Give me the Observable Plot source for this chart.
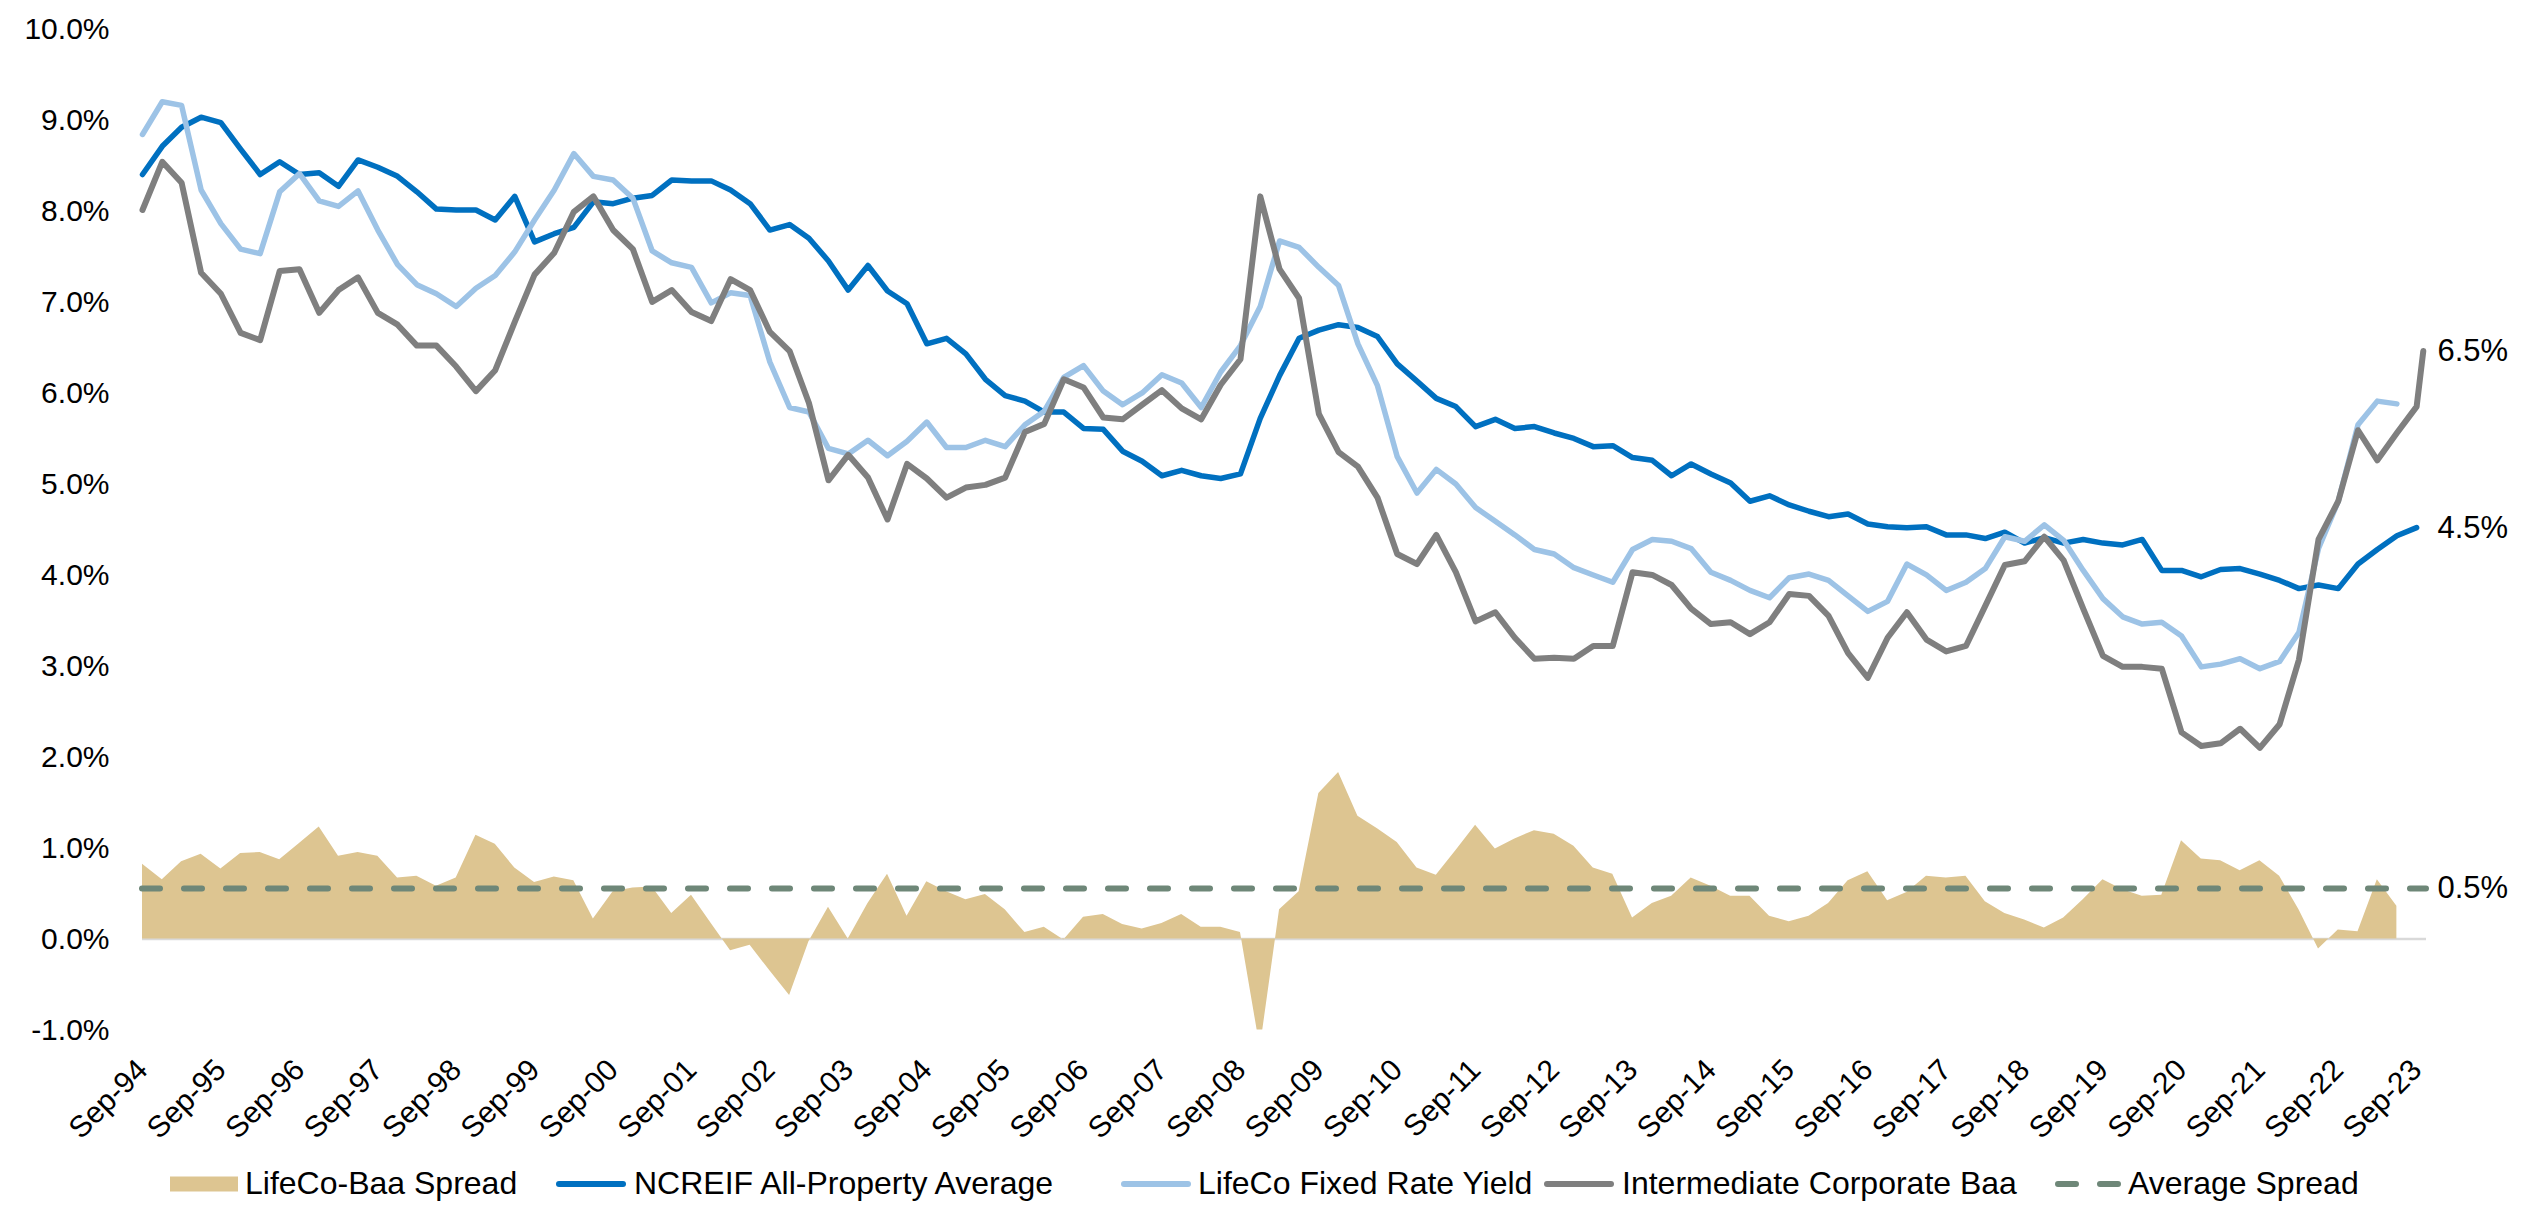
<!DOCTYPE html>
<html>
<head>
<meta charset="utf-8">
<script src="https://cdn.jsdelivr.net/npm/d3@7"></script>
<script src="https://cdn.jsdelivr.net/npm/@observablehq/plot@0.6"></script>
<style>
  html, body { margin: 0; padding: 0; background: #fff; overflow: hidden; }
  #chart { width: 2531px; }
  #legend { position: relative; width: 2531px; height: 47px; font-family: "Liberation Sans", Arial, sans-serif; font-size: 32px; color: #000; }
  .item { position: absolute; top: 0; height: 47px; display: flex; align-items: center; white-space: nowrap; }
  .item svg { display: block; }
</style>
</head>
<body>
<div id="chart"></div>
<div id="legend"></div>
<script>
// ---- Data (quarterly, Sep-94 .. Sep-23) ----
const ncreif = [8.40, 8.71, 8.92, 9.03, 8.97, 8.68, 8.40, 8.54, 8.40, 8.42, 8.27, 8.56, 8.48, 8.38, 8.21, 8.02, 8.01, 8.01, 7.90, 8.16,
  7.66, 7.75, 7.82, 8.10, 8.08, 8.14, 8.17, 8.34, 8.33, 8.33, 8.23, 8.08, 7.79, 7.85, 7.70, 7.45, 7.13, 7.40, 7.12, 6.98,
  6.54, 6.60, 6.43, 6.15, 5.97, 5.91, 5.79, 5.79, 5.61, 5.60, 5.36, 5.25, 5.09, 5.15, 5.09, 5.06, 5.11, 5.72, 6.19, 6.60,
  6.69, 6.75, 6.72, 6.62, 6.32, 6.13, 5.94, 5.85, 5.63, 5.71, 5.61, 5.63, 5.56, 5.50, 5.41, 5.42, 5.29, 5.26, 5.09, 5.22,
  5.11, 5.01, 4.81, 4.87, 4.77, 4.70, 4.64, 4.67, 4.56, 4.53, 4.52, 4.53, 4.44, 4.44, 4.40, 4.47, 4.35, 4.41, 4.35, 4.39,
  4.35, 4.33, 4.39, 4.05, 4.05, 3.98, 4.06, 4.07, 4.01, 3.94, 3.85, 3.89, 3.85, 4.12, 4.28, 4.43, 4.52];

const lifeco = [8.84, 9.20, 9.16, 8.23, 7.86, 7.58, 7.53, 8.21, 8.41, 8.11, 8.05, 8.22, 7.79, 7.41, 7.19, 7.09, 6.95, 7.15, 7.29, 7.55,
  7.90, 8.23, 8.63, 8.38, 8.34, 8.14, 7.56, 7.43, 7.38, 6.99, 7.10, 7.07, 6.34, 5.84, 5.79, 5.39, 5.33, 5.48, 5.31, 5.47,
  5.68, 5.40, 5.40, 5.48, 5.41, 5.65, 5.80, 6.17, 6.30, 6.02, 5.87, 6.00, 6.20, 6.11, 5.84, 6.23, 6.52, 6.95, 7.67, 7.60,
  7.38, 7.18, 6.54, 6.08, 5.30, 4.90, 5.16, 5.00, 4.74, 4.59, 4.44, 4.28, 4.23, 4.08, 4.00, 3.92, 4.28, 4.39, 4.37, 4.29,
  4.03, 3.94, 3.83, 3.75, 3.97, 4.01, 3.94, 3.77, 3.60, 3.71, 4.12, 4.00, 3.83, 3.92, 4.07, 4.42, 4.37, 4.55, 4.38, 4.05,
  3.74, 3.54, 3.46, 3.48, 3.33, 2.99, 3.02, 3.08, 2.97, 3.05, 3.37, 4.29, 4.81, 5.65, 5.91, 5.88];

const baa = [8.01, 8.54, 8.31, 7.32, 7.09, 6.66, 6.58, 7.34, 7.36, 6.88, 7.13, 7.27, 6.88, 6.75, 6.52, 6.52, 6.29, 6.02, 6.25, 6.78,
  7.30, 7.54, 7.99, 8.16, 7.79, 7.58, 7.00, 7.13, 6.89, 6.79, 7.25, 7.13, 6.67, 6.46, 5.89, 5.04, 5.32, 5.07, 4.61, 5.22,
  5.06, 4.85, 4.96, 4.99, 5.07, 5.57, 5.66, 6.15, 6.06, 5.73, 5.71, 5.87, 6.03, 5.83, 5.71, 6.09, 6.37, 8.16, 7.36, 7.04,
  5.77, 5.35, 5.19, 4.85, 4.23, 4.12, 4.44, 4.03, 3.49, 3.59, 3.31, 3.08, 3.09, 3.08, 3.22, 3.22, 4.03, 4.00, 3.89, 3.63,
  3.46, 3.48, 3.35, 3.48, 3.79, 3.77, 3.55, 3.14, 2.87, 3.31, 3.59, 3.29, 3.16, 3.22, 3.66, 4.11, 4.15, 4.42, 4.16, 3.63,
  3.11, 2.99, 2.99, 2.97, 2.27, 2.12, 2.15, 2.31, 2.10, 2.36, 3.07, 4.39, 4.81, 5.59, 5.26, 5.56, 5.85];
const baaLatest = 6.46;           // most recent monthly reading (Oct-23)

const spread = [0.82, 0.65, 0.85, 0.93, 0.77, 0.94, 0.95, 0.87, 1.05, 1.23, 0.91, 0.95, 0.91, 0.67, 0.69, 0.58, 0.67, 1.14, 1.04, 0.78,
  0.62, 0.68, 0.64, 0.22, 0.52, 0.56, 0.57, 0.28, 0.48, 0.17, -0.13, -0.07, -0.35, -0.62, -0.03, 0.35, 0.00, 0.39, 0.71, 0.25,
  0.63, 0.52, 0.43, 0.49, 0.32, 0.07, 0.13, -0.01, 0.24, 0.27, 0.16, 0.11, 0.17, 0.27, 0.13, 0.13, 0.07, -1.20, 0.32, 0.52,
  1.60, 1.83, 1.35, 1.21, 1.06, 0.78, 0.70, 0.97, 1.25, 0.99, 1.10, 1.19, 1.15, 1.02, 0.78, 0.71, 0.23, 0.39, 0.47, 0.67,
  0.58, 0.47, 0.47, 0.25, 0.19, 0.25, 0.39, 0.64, 0.74, 0.42, 0.51, 0.69, 0.67, 0.69, 0.41, 0.28, 0.21, 0.12, 0.23, 0.43,
  0.65, 0.54, 0.47, 0.48, 1.08, 0.88, 0.86, 0.75, 0.86, 0.69, 0.32, -0.11, 0.10, 0.08, 0.65, 0.36];

const avgSpread = 0.555;
const yTicks = [-1, 0, 1, 2, 3, 4, 5, 6, 7, 8, 9, 10];
const endLabels = ["6.5%", "4.5%", "0.5%"];
const seriesNames = ["LifeCo-Baa Spread", "NCREIF All-Property Average", "LifeCo Fixed Rate Yield", "Intermediate Corporate Baa", "Average Spread"];
const colors = { spread: "#DDC591", ncreif: "#0070C0", lifeco: "#9DC3E6", baa: "#7F7F7F", avg: "#6E8778" };

// ---- Dates ----
const quarterEnds = d3.utcMonth.range(new Date(Date.UTC(1994, 9, 1)), new Date(Date.UTC(2023, 9, 2)), 3)
  .map(d => new Date(+d - 864e5));               // Sep 30, Dec 31, Mar 31, Jun 30 ...
const baaLatestDate = new Date(Date.UTC(2023, 9, 31));
const xStart = new Date(Date.UTC(1994, 8, 30));
const xEnd = new Date(Date.UTC(2023, 10, 15));
const xTicks = quarterEnds.filter(d => d.getUTCMonth() === 8);
const fmt = d3.utcFormat("%b-%y");

const rows = arr => arr.map((v, i) => ({ date: quarterEnds[i], v }));
const ncreifRows = rows(ncreif);
const lifecoRows = rows(lifeco);
const baaRows = rows(baa).concat([{ date: baaLatestDate, v: baaLatest }]);
const spreadRows = rows(spread);
const labelRows = [
  { v: baaLatest, t: endLabels[0] },
  { v: ncreif[ncreif.length - 1], t: endLabels[1] },
  { v: avgSpread, t: endLabels[2] }
];

const W = 2531, H = 1160;
const chart = Plot.plot({
  width: W,
  height: H,
  marginLeft: 142,
  marginRight: 105,
  marginTop: 28.4,
  marginBottom: H - 1029.5,
  style: { fontFamily: "'Liberation Sans', Arial, sans-serif", fontSize: "30px", color: "#000", background: "#fff" },
  x: { type: "utc", domain: [xStart, xEnd] },
  y: { domain: [-1, 10] },
  marks: [
    Plot.ruleY([0], { stroke: "#D9D9D9", strokeWidth: 2.5 }),
    Plot.areaY(spreadRows, { x: "date", y: "v", fill: colors.spread, clip: true }),
    Plot.lineY(ncreifRows, { x: "date", y: "v", stroke: colors.ncreif, strokeWidth: 5.5, strokeLinejoin: "round", strokeLinecap: "round" }),
    Plot.lineY(lifecoRows, { x: "date", y: "v", stroke: colors.lifeco, strokeWidth: 5.5, strokeLinejoin: "round", strokeLinecap: "round" }),
    Plot.lineY(baaRows, { x: "date", y: "v", stroke: colors.baa, strokeWidth: 6, strokeLinejoin: "round", strokeLinecap: "round" }),
    Plot.ruleY([avgSpread], { stroke: colors.avg, strokeWidth: 6, strokeDasharray: "18,24", strokeLinecap: "round" }),
    Plot.text(labelRows, { x: () => xEnd, y: "v", text: "t", textAnchor: "start", dx: 11, fontSize: 31, fill: "#000" }),
    Plot.axisY({ ticks: yTicks, tickSize: 0, tickPadding: 33, tickFormat: d => d.toFixed(1) + "%", label: null, fontSize: 30 }),
    Plot.axisX({ ticks: xTicks, tickSize: 0, tickPadding: 35, tickRotate: -45, tickFormat: fmt, label: null, fontSize: 30 })
  ]
});
document.getElementById("chart").appendChild(chart);

// ---- Legend (below the chart) ----
const legend = d3.select("#legend");
const items = [
  { name: seriesNames[0], kind: "rect", color: colors.spread, sx: 170, tx: 245 },
  { name: seriesNames[1], kind: "line", color: colors.ncreif, sx: 556, tx: 634 },
  { name: seriesNames[2], kind: "line", color: colors.lifeco, sx: 1121, tx: 1198 },
  { name: seriesNames[3], kind: "line", color: colors.baa, sx: 1544, tx: 1622 },
  { name: seriesNames[4], kind: "dash", color: colors.avg, sx: 2055, tx: 2128 }
];
items.forEach(it => {
  const sw = legend.append("div").attr("class", "item").style("left", it.sx + "px");
  const svg = sw.append("svg").attr("width", it.tx - it.sx).attr("height", 20);
  if (it.kind === "rect") {
    svg.append("rect").attr("x", 0).attr("y", 2.5).attr("width", 68).attr("height", 15).attr("fill", it.color);
  } else if (it.kind === "line") {
    svg.append("line").attr("x1", 3).attr("x2", 67).attr("y1", 10).attr("y2", 10)
      .attr("stroke", it.color).attr("stroke-width", 6).attr("stroke-linecap", "round");
  } else {
    svg.append("line").attr("x1", 3).attr("x2", 63).attr("y1", 10).attr("y2", 10)
      .attr("stroke", it.color).attr("stroke-width", 6).attr("stroke-linecap", "round").attr("stroke-dasharray", "18,24");
  }
  legend.append("div").attr("class", "item").style("left", it.tx + "px").text(it.name);
});
</script>
</body>
</html>
